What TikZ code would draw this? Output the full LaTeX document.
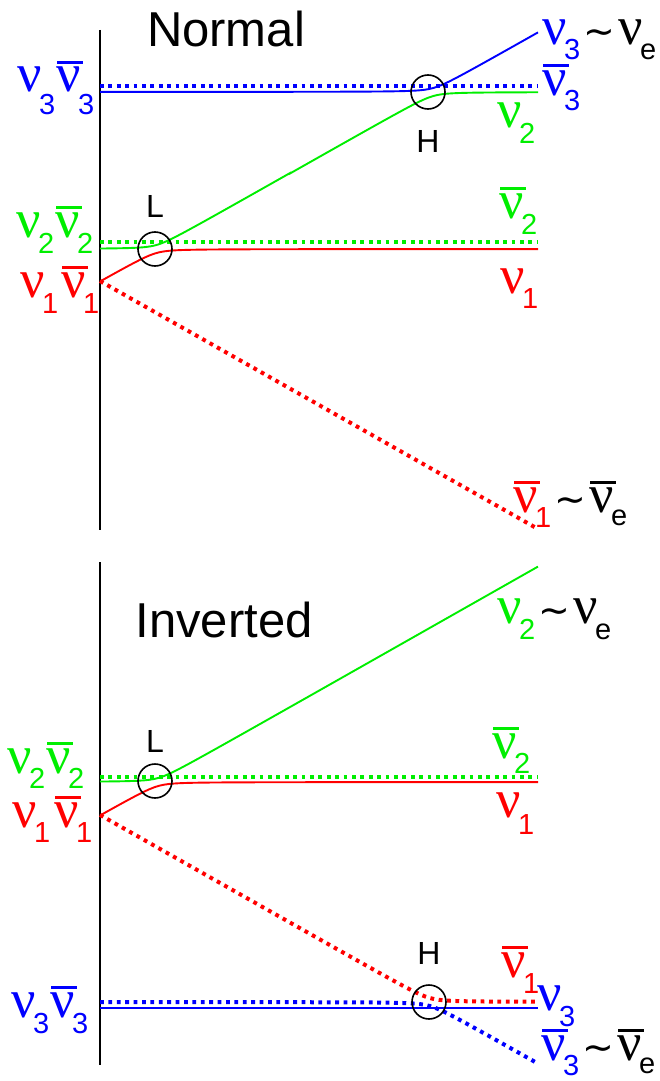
\documentclass[tikz,border=0pt]{standalone}
\usepackage{fontspec}
\setmainfont{Liberation Sans}
\newfontfamily\nufont{Liberation Serif}
\newfontfamily\symfont{DejaVu Sans}
\usetikzlibrary{positioning}
\definecolor{NuBlue}{HTML}{0000FF}
\definecolor{NuGreen}{HTML}{00EE00}
\definecolor{NuRed}{HTML}{FF0000}

\newcommand{\nusym}{{\nufont\fontsize{54}{54}\selectfont ν}}
\newcommand{\nubar}{{\nufont\fontsize{54}{54}\selectfont\rlap{\kern1pt\rule[28pt]{26pt}{3pt}}ν}}
\newcommand{\idx}[2][16pt]{\kern-2.5pt\raisebox{-#1}{\fontsize{29}{29}\selectfont #2}}
\newcommand{\simto}{{\symfont\fontsize{38}{38}\selectfont\kern3pt∼\kern3pt}}

\begin{document}
\begin{tikzpicture}[
    x=1pt, y=-1pt,
    declare function={
      upper(\p,\q)=(\p+\q)/2-veclen((\p-\q)/2,4);
      lower(\p,\q)=(\p+\q)/2+veclen((\p-\q)/2,4);
    },
    axisline/.style={line width=1.8pt, black},
    lvl/.style={line width=1.9pt},
    dotlvl/.style={line width=4pt, dash pattern=on 3.8pt off 4.6pt},
    xing/.style={draw, circle, line width=1.6pt, minimum size=34pt, inner sep=0pt},
    xtag/.style={font=\fontsize{32}{32}\selectfont, inner sep=0pt},
    ttl/.style={font=\fontsize{49}{49}\selectfont, anchor=base, inner sep=0pt},
    nutag/.style={anchor=base west, inner sep=0pt}
  ]
  \useasboundingbox (0,0) rectangle (659,1081);

  % Normal
  \node[ttl] (normal) at (226,47) {Normal};
  \draw[axisline] (100,30) -- (100,530);

  % antineutrinos (dotted)
  \draw[dotlvl, NuBlue] (100,86) -- (538,86);
  \draw[dotlvl, NuGreen] (100,242) -- (538,242);
  \draw[dotlvl, NuRed] (100,281) -- (538,529);

  % neutrinos (solid)
  \draw[lvl, NuBlue] plot[domain=100:538, samples=90] (\x,{upper(92,281-0.567*(\x-100))});
  \draw[lvl, NuGreen] plot[domain=100:290, samples=60] (\x,{upper(249,281-0.567*(\x-100))})
    -- plot[domain=290:538, samples=60] (\x,{lower(92,281-0.567*(\x-100))});
  \draw[lvl, NuRed] plot[domain=100:538, samples=90] (\x,{lower(249,281-0.567*(\x-100))});

  \node[xing] (lowtop) at (155,249) {};
  \node[xtag, above=14pt of lowtop] (Ltop) {L};
  \node[xing] (hightop) at (428,92) {};
  \node[xtag, below=20pt of hightop] (Htop) {H};

  \node[nutag, NuBlue] (nu3l) at (17,92) {\nusym\idx[22pt]{3}\kern1pt\nubar\idx[22pt]{3}};
  \node[nutag, NuGreen] (nu2l) at (16,237) {\nusym\idx{2}\kern1pt\nubar\idx{2}};
  \node[nutag, NuRed] (nu1l) at (20,297) {\nusym\idx{1}\kern3pt\nubar\idx{1}};

  \node[nutag] (nu3r) at (542,45) {\textcolor{NuBlue}{\nusym\idx[15pt]{3}}\simto\nusym\idx[15pt]{e}};
  \node[nutag, NuBlue] (nu3barr) at (542,95) {\nubar\idx{3}};
  \node[nutag, NuGreen] (nu2r) at (497,127) {\nusym\idx{2}};
  \node[nutag, NuGreen] (nu2barr) at (499,218) {\nubar\idx{2}};
  \node[nutag, NuRed] (nu1r) at (500,293) {\nusym\idx[15pt]{1}};
  \node[nutag] (nu1barr) at (513,512) {\textcolor{NuRed}{\nubar\idx[15pt]{1}}\simto\nubar\idx[13pt]{e}};

  % Inverted
  \node[ttl] (inverted) at (224,637) {Inverted};
  \draw[axisline] (100,562) -- (100,1065);

  \draw[dotlvl, NuGreen] (100,777) -- (538,777);
  \draw[dotlvl, NuRed] plot[domain=100:538, samples=90] (\x,{upper(1002,815+0.567*(\x-100))});
  \draw[dotlvl, NuBlue] plot[domain=100:538, samples=90] (\x,{lower(1002,815+0.567*(\x-100))});

  \draw[lvl, NuBlue] (100,1008) -- (538,1008);
  \draw[lvl, NuGreen] plot[domain=100:538, samples=90] (\x,{upper(782,815-0.567*(\x-100))});
  \draw[lvl, NuRed] plot[domain=100:538, samples=90] (\x,{lower(782,815-0.567*(\x-100))});

  \node[xing] (lowbot) at (155,781) {};
  \node[xtag, above=11pt of lowbot] (Lbot) {L};
  \node[xing] (highbot) at (429,1002) {};
  \node[xtag, above=20pt of highbot] (Hbot) {H};

  \node[nutag, NuGreen] (nu2l2) at (7,773) {\nusym\idx[15pt]{2}\kern1pt\nubar\idx[15pt]{2}};
  \node[nutag, NuRed] (nu1l2) at (12,827) {\nusym\idx[15pt]{1}\kern4pt\nubar\idx[15pt]{1}};
  \node[nutag, NuBlue] (nu3l2) at (11,1017) {\nusym\idx{3}\kern1pt\nubar\idx{3}};

  \node[nutag] (nu2r2) at (497,623) {\textcolor{NuGreen}{\nusym\idx{2}}\simto\nusym\idx{e}};
  \node[nutag, NuGreen] (nu2barr2) at (492,758) {\nubar\idx[15pt]{2}};
  \node[nutag, NuRed] (nu1r2) at (496,817) {\nusym\idx[17pt]{1}};
  \node[nutag, NuRed] (nu1barr2) at (501,977) {\nubar\idx{1}};
  \node[nutag, NuBlue] (nu3r2) at (537,1010) {\nusym\idx[16pt]{3}};
  \node[nutag] (nu3barr2) at (541,1060) {\textcolor{NuBlue}{\nubar\idx[15pt]{3}}\simto\nubar\idx[13pt]{e}};
\end{tikzpicture}
\end{document}
